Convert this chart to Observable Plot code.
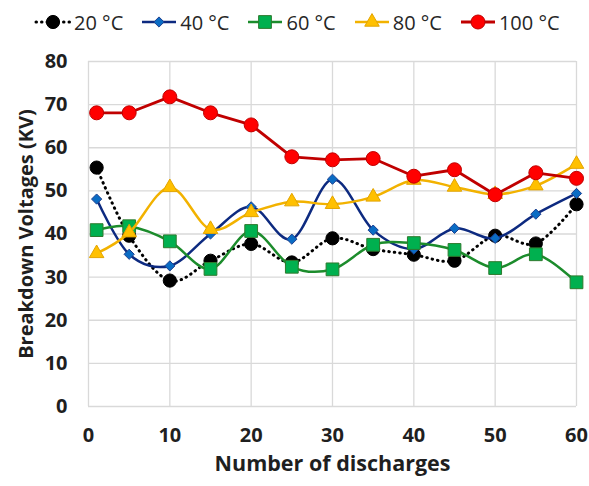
<!DOCTYPE html>
<html>
<head>
<meta charset="utf-8">
<script src="https://cdn.jsdelivr.net/npm/d3@7"></script>
<script src="https://cdn.jsdelivr.net/npm/@observablehq/plot@0.6"></script>
<style>
  body { margin: 0; background: #fff; font-family: "Open Sans", sans-serif; }
  #legend { height: 38px; display: flex; align-items: center; gap: 17px; padding-left: 34px; padding-top: 6px; box-sizing: border-box; }
  .item { display: flex; align-items: center; font-size: 20px; color: #262626; }
  .item svg { margin-right: 2px; }
</style>
</head>
<body>
<div id="legend"></div>
<div id="chart"></div>
<script>
const discharges = [1, 5, 10, 15, 20, 25, 30, 35, 40, 45, 50, 55, 60];
const series = ["20 °C", "40 °C", "60 °C", "80 °C", "100 °C"];
const v20  = [55.4, 39.6, 29.2, 33.8, 37.7, 33.4, 39.0, 36.5, 35.2, 33.8, 39.6, 37.8, 46.9];
const v40  = [48.1, 35.3, 32.6, 40.0, 46.3, 38.8, 52.7, 40.9, 36.5, 41.3, 39.0, 44.6, 49.4];
const v60  = [40.9, 41.8, 38.3, 31.9, 40.7, 32.4, 31.8, 37.5, 37.9, 36.3, 32.1, 35.3, 28.8];
const v80  = [35.5, 40.3, 50.8, 41.1, 45.0, 47.5, 46.9, 48.6, 52.5, 50.9, 49.2, 51.2, 56.2];
const v100 = [68.1, 68.1, 71.8, 68.1, 65.3, 57.9, 57.2, 57.5, 53.4, 54.9, 49.1, 54.2, 52.9];
const yTicks = [0, 10, 20, 30, 40, 50, 60, 70, 80];
const xTicks = [0, 10, 20, 30, 40, 50, 60];

const values = [v20, v40, v60, v80, v100];
const styles = [
  {line: "#000000", dash: "0.5,5", curve: "cardinal", symbol: "circle", r: 6.6, fill: "#000000", stroke: "#000000", width: 3},
  {line: "#0d2a80", dash: null, curve: "cardinal", symbol: "diamond2", r: 4.6, fill: "#0a6cc4", stroke: "#1d3f8f", width: 2.5},
  {line: "#1c8c2c", dash: null, curve: "cardinal", symbol: "square", r: 7.2, fill: "#00b04f", stroke: "#2d7a2d", width: 2.5},
  {line: "#f2b200", dash: null, curve: "cardinal", symbol: "triangle", r: 5.4, fill: "#ffc000", stroke: "#e3a400", width: 2.5},
  {line: "#c00000", dash: null, curve: "linear", symbol: "circle", r: 7, fill: "#ff0000", stroke: "#c00000", width: 2.8}
];

const rows = series.flatMap((s, i) => discharges.map((x, j) => ({series: s, x, y: values[i][j]})));

// legend
const legend = document.getElementById("legend");
const ns = "http://www.w3.org/2000/svg";
series.forEach((s, i) => {
  const st = styles[i];
  const item = document.createElement("div");
  item.className = "item";
  const svg = document.createElementNS(ns, "svg");
  svg.setAttribute("width", 38); svg.setAttribute("height", 20);
  const ln = document.createElementNS(ns, "line");
  ln.setAttribute("x1", 2); ln.setAttribute("x2", 36); ln.setAttribute("y1", 10); ln.setAttribute("y2", 10);
  ln.setAttribute("stroke", st.line); ln.setAttribute("stroke-width", st.width);
  if (st.dash) { ln.setAttribute("stroke-dasharray", st.dash); ln.setAttribute("stroke-linecap", "round"); }
  svg.appendChild(ln);
  const sym = {circle: d3.symbolCircle, diamond2: d3.symbolDiamond2, square: d3.symbolSquare, triangle: d3.symbolTriangle}[st.symbol];
  const p = document.createElementNS(ns, "path");
  p.setAttribute("d", d3.symbol(sym, Math.PI * st.r * st.r)());
  p.setAttribute("transform", "translate(19,10)");
  p.setAttribute("fill", st.fill); p.setAttribute("stroke", st.stroke); p.setAttribute("stroke-width", 1);
  svg.appendChild(p);
  item.appendChild(svg);
  const t = document.createElement("span");
  t.textContent = s;
  item.appendChild(t);
  legend.appendChild(item);
});

const marks = [
  Plot.gridX(xTicks, {stroke: "#d9d9d9", strokeOpacity: 1, strokeWidth: 1.3}),
  Plot.gridY(yTicks, {stroke: "#d9d9d9", strokeOpacity: 1, strokeWidth: 1.3}),
  Plot.axisX(xTicks, {tickSize: 0, tickPadding: 21, fontWeight: "bold", fontSize: 20, label: null}),
  Plot.axisY(yTicks, {tickSize: 0, tickPadding: 21, fontWeight: "bold", fontSize: 20, label: null}),
  Plot.text(["Breakdown Voltages (KV)"], {frameAnchor: "left", dx: -62, rotate: -90, textAnchor: "middle", text: d => d, fontWeight: "bold", fontSize: 20, fill: "#1f1f1f"}),
  Plot.text(["Number of discharges"], {frameAnchor: "bottom", dy: 64, text: d => d, fontWeight: "bold", fontSize: 21.5, fill: "#1f1f1f"})
];
series.forEach((s, i) => {
  const st = styles[i];
  const data = rows.filter(d => d.series === s);
  marks.push(Plot.line(data, {x: "x", y: "y", stroke: st.line, strokeWidth: st.width, curve: st.curve,
    strokeDasharray: st.dash || undefined, strokeLinecap: "round"}));
  marks.push(Plot.dot(data, {x: "x", y: "y", symbol: () => st.symbol, r: st.r, fill: st.fill, stroke: st.stroke, strokeWidth: 1}));
});

const chart = Plot.plot({
  width: 589,
  height: 448,
  marginTop: 23,
  marginBottom: 80,
  marginLeft: 88,
  marginRight: 13,
  style: {fontFamily: "Open Sans, sans-serif", color: "#1f1f1f", background: "#fff"},
  x: {domain: [0, 60]},
  y: {domain: [0, 80]},
  symbol: {type: "identity"},
  marks
});
document.getElementById("chart").appendChild(chart);
</script>
</body>
</html>
